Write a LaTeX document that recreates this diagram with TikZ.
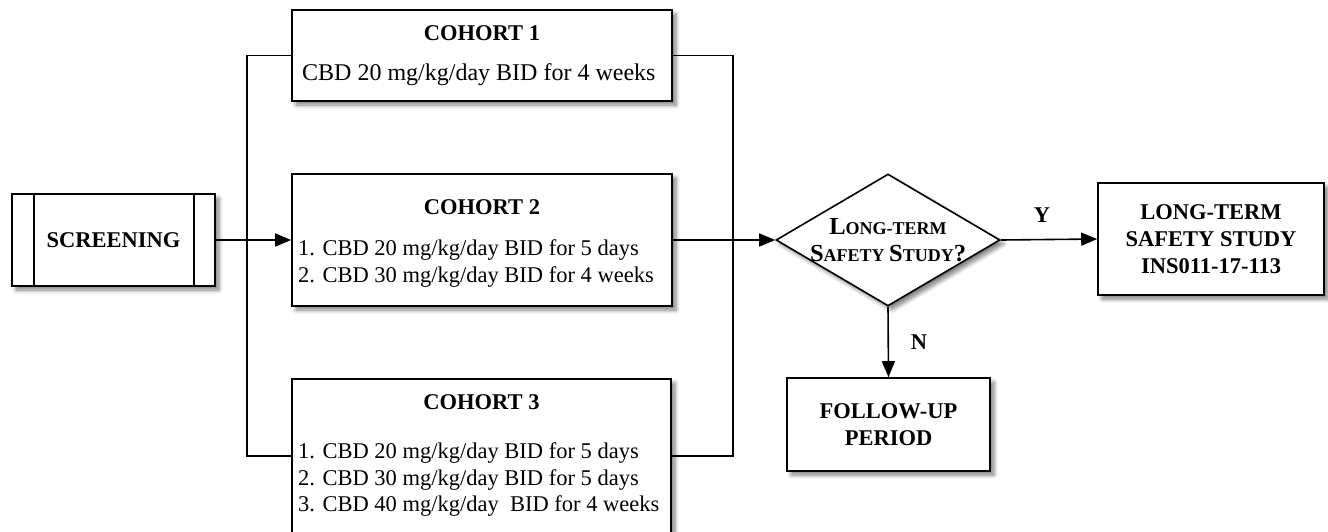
\documentclass[tikz,border=0pt]{standalone}
\usepackage{fontspec}
\setmainfont{Liberation Serif}
\usetikzlibrary{shapes.geometric,arrows.meta,shadows.blur,calc}
\begin{document}
\begin{tikzpicture}[x=1pt,y=1pt,
  shad/.style={blur shadow={shadow xshift=4pt,shadow yshift=-4pt,shadow blur radius=4pt,shadow blur steps=6,shadow opacity=50}},
  box/.style={draw,line width=1.6pt,fill=white,inner sep=0pt,shad},
  decision/.style={diamond,draw,line width=1.6pt,fill=white,inner sep=0pt,shad,minimum width=224pt,minimum height=132pt},
  title/.style={font=\fontsize{22.5}{27}\selectfont\bfseries,anchor=base,inner sep=0pt},
  body/.style={font=\fontsize{24}{27}\selectfont,anchor=base west,inner sep=0pt},
  nbody/.style={font=\fontsize{22.5}{27}\selectfont,anchor=base west,inner sep=0pt},
  boxtext/.style={font=\fontsize{22.5}{27}\selectfont\bfseries,align=center,inner sep=0pt},
  lbl/.style={font=\fontsize{22.5}{27}\selectfont\bfseries,inner sep=0pt},
  conn/.style={line width=1.6pt},
  arr/.style={line width=1.6pt,-{Triangle[length=16pt,width=13pt]}}
]
\useasboundingbox (0,0) rectangle (1328,-531);
\clip (0,0) rectangle (1328,-531);

% boxes
\node[box,minimum width=203pt,minimum height=92pt] (scr) at (113.5,-240) {};
\node[title] (scrt) at (113.5,-247.5) {SCREENING};
\draw[conn] ($(scr.north west)+(23,0)$) -- ($(scr.south west)+(23,0)$);
\draw[conn] ($(scr.north east)+(-22,0)$) -- ($(scr.south east)+(-22,0)$);

\node[box,minimum width=380pt,minimum height=91pt] (c1) at (482,-55.5) {};
\node[title] (c1h) at (482,-40.5) {COHORT 1};
\node[body] (c1a) at (302,-80) {CBD 20 mg/kg/day BID for 4 weeks};

\node[box,minimum width=380pt,minimum height=132pt] (c2) at (482,-240) {};
\node[title] (c2h) at (482,-214.5) {COHORT 2};
\node[nbody] (c2a) at (298,-255.5) {1. CBD 20 mg/kg/day BID for 5 days};
\node[nbody] (c2b) at (298,-282.5) {2. CBD 30 mg/kg/day BID for 4 weeks};

\node[box,minimum width=379pt,minimum height=154pt] (c3) at (481.5,-456) {};
\node[title] (c3h) at (481.5,-409.5) {COHORT 3};
\node[nbody] (c3a) at (298,-458.5) {1. CBD 20 mg/kg/day BID for 5 days};
\node[nbody] (c3b) at (298,-485.5) {2. CBD 30 mg/kg/day BID for 5 days};
\node[nbody] (c3c) at (298,-511.5) {3. CBD 40 mg/kg/day\ \ BID for 4 weeks};

\node[decision] (dec) at (888,-240) {};
\node[font=\fontsize{24.5}{27}\selectfont\bfseries,align=center,inner sep=0pt] (dect) at (888,-240)
  {L{\fontsize{18}{27}\selectfont ONG-TERM}\\S{\fontsize{18}{27}\selectfont AFETY }S{\fontsize{18}{27}\selectfont TUDY}?};

\node[box,minimum width=226pt,minimum height=112pt] (lt) at (1211,-239) {};
\node[boxtext] (ltt) at (1211,-239) {LONG-TERM\\SAFETY STUDY\\INS011-17-113};

\node[box,minimum width=203pt,minimum height=93pt] (fu) at (888.5,-424.5) {};
\node[boxtext] (fut) at (888.5,-424.5) {FOLLOW-UP\\PERIOD};

% connectors
\draw[conn] (c1.west) -- ++(-44,0) coordinate (bl) |- (c3.west);
\draw[conn] (c1.east) -- ++(60,0) coordinate (br) |- (c3.east);
\draw[arr] (scr.east) -- (c2.west);
\draw[arr] (c2.east) -- (dec.west);
\draw[arr] (dec.east) -- (lt.west);
\draw[arr] (dec.south) -- (fu.north);
\node[lbl] (ylab) at (1042,-215) {Y};
\node[lbl] (nlab) at (919,-342) {N};
\end{tikzpicture}
\end{document}
